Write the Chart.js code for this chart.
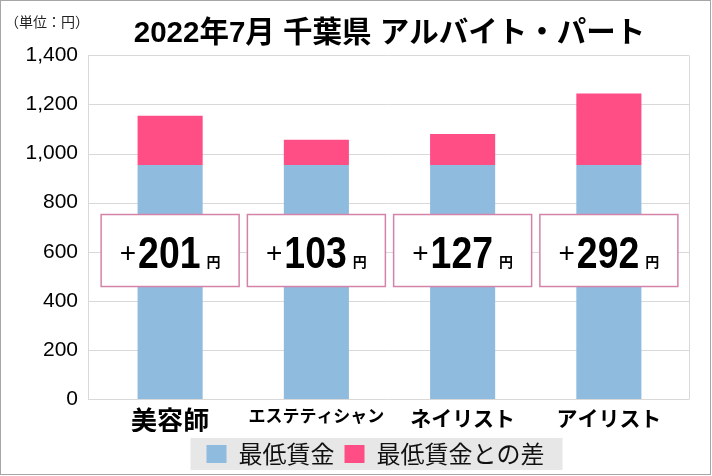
<!DOCTYPE html>
<html>
<head>
<meta charset="utf-8">
<script src="https://cdn.jsdelivr.net/npm/chart.js@4.4.0/dist/chart.umd.min.js"></script>
<style>
  body { margin: 0; background: #fff; }
  #wrap { width: 712px; height: 476px; position: relative; }
</style>
</head>
<body>
<div id="wrap"><canvas id="wageChart"></canvas></div>
<script>
// chart data
const categories = ['美容師', 'エステティシャン', 'ネイリスト', 'アイリスト'];
const minWage = [953, 953, 953, 953];      // 最低賃金 (千葉県 2022)
const wageGap = [201, 103, 127, 292];      // 最低賃金との差
const yMin = 0;
const yMax = 1400;
const yStep = 200;

const numFont = "'Liberation Sans', 'Noto Sans CJK JP', sans-serif";
const jpFont = "'Noto Sans CJK JP', sans-serif";
// category labels: the long katakana one is set smaller, like the original
const catFontSize = [26, 17, 21, 21];

// light grid + plot frame, legend gray band, outer border
const framePlugin = {
    id: 'frame',
    afterLayout(chart) {
        // nudge legend a bit left (original is centred on the plot, not the bars)
        const lg = chart.legend;
        if (lg) { lg.left -= 14; lg.right -= 14; }
    },
    beforeDraw(chart) {
        const ctx = chart.ctx;
        const area = chart.chartArea;
        const y = chart.scales.y;
        const left = area.left - 9, right = area.right + 7;
        ctx.save();
        ctx.fillStyle = '#fff';
        ctx.fillRect(0, 0, chart.width, chart.height);

        ctx.strokeStyle = '#d9d9d9';
        ctx.lineWidth = 1;
        y.ticks.forEach(t => {
            const py = Math.round(y.getPixelForValue(t.value)) + 0.5;
            ctx.beginPath();
            ctx.moveTo(left, py);
            ctx.lineTo(right, py);
            ctx.stroke();
        });
        const top = Math.round(y.getPixelForValue(yMax)) + 0.5;
        const bottom = Math.round(y.getPixelForValue(yMin)) + 0.5;
        ctx.beginPath();
        ctx.moveTo(Math.round(left) + 0.5, top);
        ctx.lineTo(Math.round(left) + 0.5, bottom);
        ctx.moveTo(Math.round(right) + 0.5, top);
        ctx.lineTo(Math.round(right) + 0.5, bottom);
        ctx.stroke();

        // legend background band
        const lg = chart.legend;
        if (lg && lg.legendHitBoxes && lg.legendHitBoxes.length) {
            const boxes = lg.legendHitBoxes;
            const x0 = boxes[0].left - 16;
            const last = boxes[boxes.length - 1];
            const x1 = last.left + last.width + 18;
            const cy = boxes[0].top + boxes[0].height / 2;
            ctx.fillStyle = '#e7e7e7';
            ctx.fillRect(x0, cy - 16, x1 - x0, 32);
        }
        ctx.restore();
    },
    afterDraw(chart) {
        const ctx = chart.ctx;
        ctx.save();
        // unit label
        ctx.fillStyle = '#222';
        ctx.font = '14px ' + jpFont;
        ctx.textBaseline = 'middle';
        ctx.textAlign = 'left';
        ctx.fillText('（単位：円）', 5, 22);
        // outer border
        ctx.strokeStyle = '#a6a6a6';
        ctx.lineWidth = 1;
        ctx.strokeRect(0.5, 0.5, chart.width - 2, chart.height - 2);
        ctx.restore();
    }
};

// "+201円" boxes over each bar
const gapLabelPlugin = {
    id: 'gapLabels',
    afterDatasetsDraw(chart) {
        const ctx = chart.ctx;
        const y = chart.scales.y;
        const meta = chart.getDatasetMeta(1);
        const cy = y.getPixelForValue(605);
        const bw = 138, bh = 72;
        ctx.save();
        meta.data.forEach((bar, i) => {
            const cx = bar.x;
            ctx.fillStyle = '#fff';
            ctx.fillRect(cx - bw / 2, cy - bh / 2, bw, bh);
            ctx.strokeStyle = '#d483a8';
            ctx.lineWidth = 1.5;
            ctx.strokeRect(cx - bw / 2, cy - bh / 2, bw, bh);

            const digits = String(wageGap[i]);
            const sx = 0.85;
            ctx.font = '28px ' + numFont;
            const wPlus = ctx.measureText('+').width;
            ctx.font = 'bold 44px ' + numFont;
            const wNum = ctx.measureText(digits).width * sx;
            ctx.font = 'bold 14px ' + jpFont;
            const wYen = ctx.measureText('円').width;
            const total = wPlus + 2 + wNum + 6 + wYen;
            let x = cx - total / 2;
            const base = cy + 17.5;

            ctx.fillStyle = '#000';
            ctx.textAlign = 'left';
            ctx.font = '28px ' + numFont;
            ctx.textBaseline = 'middle';
            ctx.fillText('+', x, cy + 4);
            x += wPlus + 2;

            ctx.textBaseline = 'alphabetic';
            ctx.font = 'bold 44px ' + numFont;
            ctx.save();
            ctx.translate(x, base);
            ctx.scale(sx, 1);
            ctx.fillText(digits, 0, 0);
            ctx.restore();
            x += wNum + 6;

            ctx.font = 'bold 14px ' + jpFont;
            ctx.fillText('円', x, base - 1);
        });
        ctx.restore();
    }
};

const ctx = document.getElementById('wageChart').getContext('2d');
new Chart(ctx, {
    type: 'bar',
    data: {
        labels: categories,
        datasets: [
            {
                label: '最低賃金',
                data: minWage,
                backgroundColor: '#8fbbdf',
                categoryPercentage: 1,
                barPercentage: 0.445
            },
            {
                label: '最低賃金との差',
                data: wageGap,
                backgroundColor: '#ff4d86',
                categoryPercentage: 1,
                barPercentage: 0.445
            }
        ]
    },
    options: {
        responsive: true,
        maintainAspectRatio: false,
        animation: false,
        layout: { padding: { left: 0, right: 30, top: 0, bottom: 0 } },
        plugins: {
            title: {
                display: true,
                fullSize: false,
                text: '2022年7月 千葉県 アルバイト・パート',
                color: '#000',
                font: { family: numFont, size: 29.5, weight: 'bold' },
                padding: { top: 16, bottom: 4 }
            },
            legend: {
                position: 'bottom',
                fullSize: false,
                labels: {
                    color: '#111',
                    boxWidth: 20,
                    boxHeight: 18,
                    padding: 10,
                    font: { family: jpFont, size: 24 }
                }
            },
            tooltip: { enabled: false }
        },
        scales: {
            x: {
                stacked: true,
                grid: { display: false, drawTicks: false },
                border: { display: false },
                ticks: {
                    color: '#000',
                    padding: 6,
                    font: c => ({ family: jpFont, size: catFontSize[c.index] || 21, weight: 'bold' })
                },
                afterFit(scale) { scale.height = 33; }
            },
            y: {
                stacked: true,
                min: yMin,
                max: yMax,
                grid: { display: false, drawTicks: false },
                border: { display: false },
                ticks: {
                    stepSize: yStep,
                    color: '#000',
                    padding: 19,
                    font: { family: numFont, size: 21 },
                    callback: v => v.toLocaleString('en-US')
                },
                afterFit(scale) { scale.width = 97; }
            }
        }
    },
    plugins: [framePlugin, gapLabelPlugin]
});
</script>
</body>
</html>
